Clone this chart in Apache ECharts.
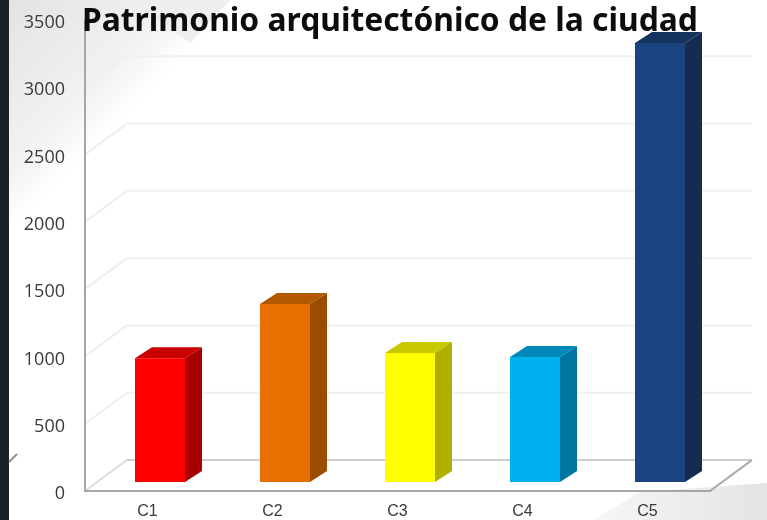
<!DOCTYPE html>
<html>
<head>
<meta charset="utf-8">
<title>Patrimonio arquitectónico de la ciudad</title>
<style>
  html, body { margin: 0; padding: 0; background: #fff; }
  #chart { width: 767px; height: 520px; }
</style>
<script src="https://cdn.jsdelivr.net/npm/echarts@6/dist/echarts.min.js"></script>
</head>
<body>
<div id="chart"></div>
<script>
var chartTitle = 'Patrimonio arquitectónico de la ciudad';
var categories = ['C1', 'C2', 'C3', 'C4', 'C5'];
var barValues = [920, 1322, 958, 928, 3262];
var wallTicks = [0, 500, 1000, 1500, 2000, 2500, 3000];

// front, top, side
var barColors = [
  ['#ff0000', '#c80000', '#a80000'],
  ['#e87000', '#b45800', '#9c4c00'],
  ['#ffff00', '#c8c800', '#b0b000'],
  ['#00b0f0', '#0088ba', '#0075a0'],
  ['#1a4480', '#16335f', '#152c50']
];

var wallDx = 42, wallDy = -31;   // depth of the chart box
var barDx = 12.5, barDy = -9;    // bars stand inside the floor
var sideDx = 17, sideDy = -11;   // depth of one bar
var barWidth = 50;

function renderWall(params, api) {
  var y = api.coord([0, api.value(0)])[1];
  var r = params.coordSys;
  return {
    type: 'group',
    children: [
      { type: 'line', shape: { x1: r.x, y1: y, x2: r.x + wallDx, y2: y + wallDy },
        style: { stroke: api.value(0) === 0 ? '#dcdcdc' : '#efefef', lineWidth: 2 } },
      { type: 'line', shape: { x1: r.x + wallDx, y1: y + wallDy, x2: r.x + r.width + wallDx, y2: y + wallDy },
        style: { stroke: api.value(0) === 0 ? '#cfcfcf' : '#f0f0f0', lineWidth: 2 } }
    ]
  };
}

function renderFloor(params, api) {
  var p = api.coord([0, 0]);
  var r = params.coordSys;
  return {
    type: 'line',
    shape: { x1: r.x + r.width, y1: p[1], x2: r.x + r.width + wallDx, y2: p[1] + wallDy },
    style: { stroke: '#a6a6a6', lineWidth: 2 }
  };
}

function renderBar(params, api) {
  var idx = api.value(0);
  var top = api.coord([idx, api.value(1)]);
  var base = api.coord([idx, 0]);
  var c = barColors[idx];
  var x0 = top[0] + barDx - barWidth / 2;
  var x1 = x0 + barWidth;
  var yt = top[1] + barDy;
  var yb = base[1] + barDy;
  return {
    type: 'group',
    children: [
      { type: 'polygon', shape: { points: [[x1, yt], [x1 + sideDx, yt + sideDy], [x1 + sideDx, yb + sideDy], [x1, yb]] },
        style: { fill: c[2] } },
      { type: 'polygon', shape: { points: [[x0, yt], [x0 + sideDx, yt + sideDy], [x1 + sideDx, yt + sideDy], [x1, yt]] },
        style: { fill: c[1] } },
      { type: 'rect', shape: { x: x0, y: yt, width: barWidth, height: yb - yt },
        style: { fill: c[0] } }
    ]
  };
}

var chart = echarts.init(document.getElementById('chart'), null, { renderer: 'canvas' });

chart.setOption({
  animation: false,
  backgroundColor: '#ffffff',
  title: {
    text: chartTitle,
    left: 77,
    top: 1,
    z: 10,
    textStyle: { fontFamily: 'Noto Sans', fontWeight: 'bold', fontSize: 31.8, color: '#0c0c0c' }
  },
  graphic: [
    // slide background behind the chart
    { type: 'rect', z: -10, shape: { x: 0, y: 0, width: 767, height: 520 },
      style: { fill: { type: 'linear', x: 0, y: 0, x2: 120, y2: 120, global: true,
        colorStops: [{ offset: 0, color: '#e2e2e4' }, { offset: 0.75, color: '#f2f2f2' }, { offset: 1, color: '#ffffff' }] } } },
    { type: 'polygon', z: -9, shape: { points: [[130, 0], [230, 0], [190, 43]] },
      style: { fill: '#eeeef0' } },
    { type: 'polygon', z: -9, shape: { points: [[593, 520], [640, 492], [767, 483], [767, 520]] },
      style: { fill: { type: 'linear', x: 0, y: 0, x2: 1, y2: 0,
        colorStops: [{ offset: 0, color: '#f6f6f6' }, { offset: 1, color: '#e4e4e4' }] } } },
    { type: 'rect', z: 20, shape: { x: 0, y: 0, width: 9, height: 520 }, style: { fill: '#1c2029' } },
    { type: 'line', z: 20, shape: { x1: 9, y1: 462, x2: 17, y2: 454 }, style: { stroke: '#8f8f8f', lineWidth: 2 } }
  ],
  grid: { left: 85, top: 20, width: 625, height: 471 },
  xAxis: {
    type: 'category',
    z: 2,
    data: categories,
    axisTick: { show: false },
    axisLine: { lineStyle: { color: '#a6a6a6', width: 2 } },
    axisLabel: { margin: 13, fontFamily: 'Liberation Sans', fontSize: 16, color: '#3a3a3a' }
  },
  yAxis: {
    type: 'value',
    z: 2,
    min: 0,
    max: 3500,
    interval: 500,
    splitLine: { show: false },
    axisTick: { show: false },
    axisLine: { show: true, lineStyle: { color: '#a6a6a6', width: 2 } },
    axisLabel: {
      margin: 20,
      fontFamily: 'Open Sans',
      fontSize: 18,
      color: '#3a3a3a',
      verticalAlign: 'top',
      lineHeight: 6,
      formatter: function (v) { return String(v); }
    }
  },
  series: [
    { type: 'custom', z: 1, silent: true, renderItem: renderWall, data: wallTicks.map(function (v) { return [v]; }), encode: { y: 0 } },
    { type: 'custom', z: 1, silent: true, renderItem: renderFloor, data: [[0]], encode: { y: 0 } },
    { type: 'custom', z: 3, silent: true, renderItem: renderBar, data: barValues.map(function (v, i) { return [i, v]; }), encode: { x: 0, y: 1 } }
  ]
});
</script>
</body>
</html>
